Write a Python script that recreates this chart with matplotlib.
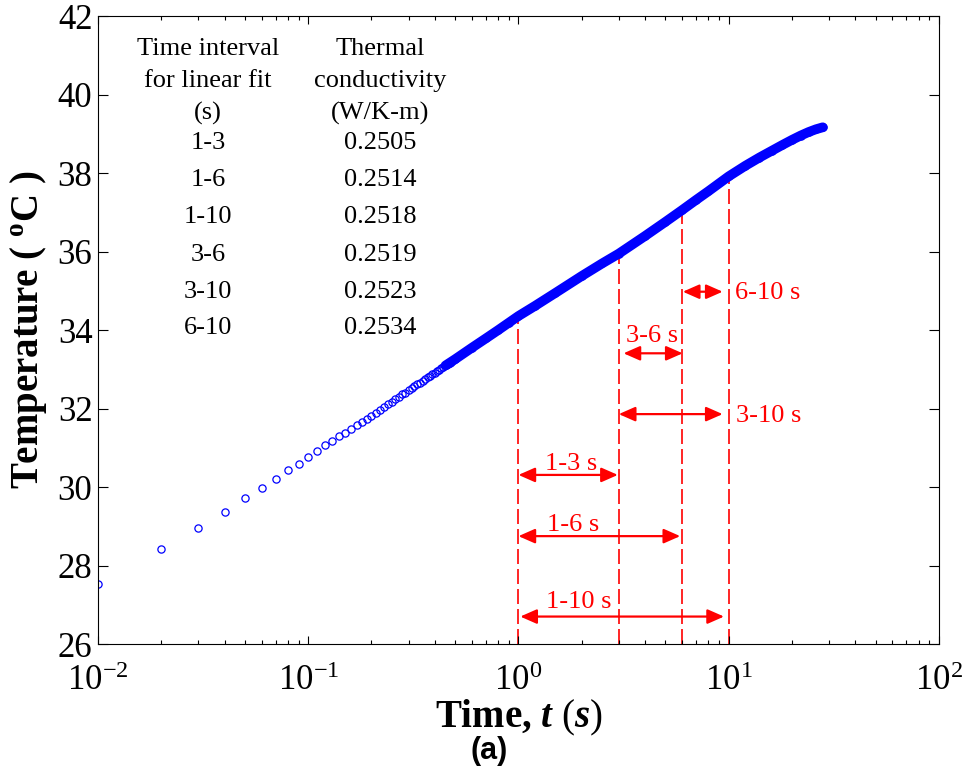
import matplotlib
matplotlib.use("Agg")
import matplotlib.pyplot as plt

plt.rcParams["font.family"] = "Liberation Serif"
plt.rcParams["mathtext.fontset"] = "custom"
plt.rcParams["mathtext.rm"] = "Liberation Serif"
plt.rcParams["mathtext.it"] = "Liberation Serif:italic:bold"
plt.rcParams["mathtext.bf"] = "Liberation Serif:bold"

# early samples (0.01 s steps)
t_early = [0.01, 0.02, 0.03, 0.04, 0.05, 0.06, 0.07, 0.08, 0.09, 0.10,
           0.11, 0.12, 0.13, 0.14, 0.15, 0.16, 0.17, 0.18, 0.19, 0.20,
           0.21, 0.22, 0.23, 0.24, 0.25, 0.26, 0.27, 0.28, 0.29, 0.30,
           0.31, 0.32, 0.33, 0.34, 0.35, 0.36, 0.37, 0.38, 0.39, 0.40,
           0.41, 0.42, 0.43, 0.44, 0.45, 0.46, 0.47, 0.48, 0.49, 0.50]
T_early = [27.54, 28.43, 28.96, 29.37, 29.72, 29.98, 30.21, 30.44, 30.60, 30.76,
           30.91, 31.06, 31.17, 31.29, 31.39, 31.49, 31.57, 31.65, 31.74, 31.81,
           31.90, 31.97, 32.04, 32.11, 32.17, 32.24, 32.30, 32.36, 32.41, 32.47,
           32.52, 32.57, 32.62, 32.66, 32.71, 32.75, 32.80, 32.84, 32.88, 32.92,
           32.96, 32.99, 33.03, 33.06, 33.10, 33.13, 33.17, 33.20, 33.23, 33.26]

# dense part (markers overlap into a solid band)
t_dense = [0.45, 0.5, 0.6, 0.7, 0.8, 0.9, 1.0, 1.2, 1.5, 2.0, 2.5, 3.0, 4.0, 5.0,
           6.0, 7.0, 8.0, 10.0, 12.0, 14.0, 16.0, 18.0, 20.0, 22.0, 24.0, 26.0, 28.0]
T_dense = [33.10, 33.26, 33.55, 33.79, 34.00, 34.19, 34.36, 34.62, 34.95, 35.38, 35.70, 35.95,
           36.40, 36.76, 37.06, 37.32, 37.54, 37.92, 38.19, 38.40, 38.57, 38.72,
           38.85, 38.96, 39.05, 39.12, 39.17]

# fit interval boundaries
fit_t = [1, 3, 6, 10]
fit_top = [34.33, 35.85, 37.06, 37.95]

# interval arrows
arr_label = ["1-3 s", "1-6 s", "1-10 s", "3-10 s", "3-6 s", "6-10 s"]
arr_start = [1.0, 1.0, 1.02, 3.0, 3.16, 6.05]
arr_end = [2.97, 5.88, 9.5, 9.36, 6.04, 9.36]
arr_y = [30.31, 28.75, 26.70, 31.86, 33.41, 34.98]
lab_x = [1.79, 1.82, 1.93, 10.8, 4.33, 10.7]
lab_y = [30.60, 29.03, 27.08, 31.82, 33.85, 34.95]
lab_ha = ["center", "center", "center", "left", "center", "left"]

# inset table
intervals = ["1-3", "1-6", "1-10", "3-6", "3-10", "6-10"]
conductivity = [0.2505, 0.2514, 0.2518, 0.2519, 0.2523, 0.2534]
head1 = ["Time interval", "for linear fit", "(s)"]
head2 = ["Thermal", "conductivity", "(W/K-m)"]

fig = plt.figure(figsize=(9.66, 7.75), dpi=100)
ax = fig.add_axes([0.1014, 0.169, 0.8706, 0.810])

for t, top in zip(fit_t, fit_top):
    ax.plot([t, t], [26, top], color="red", lw=1.2, dashes=(9, 3), zorder=1)

ax.plot(t_early, T_early, "o", ms=5.2, mfc="none", mec="blue", mew=0.9, zorder=2)
ax.plot(t_dense, T_dense, "o-", color="blue", lw=7, ms=5.2, mfc="none", mew=0.9,
        solid_capstyle="round", zorder=2)

for lab, a, b, y, lx, ly, ha in zip(arr_label, arr_start, arr_end, arr_y, lab_x, lab_y, lab_ha):
    ax.annotate("", xy=(b, y), xytext=(a, y),
                arrowprops=dict(arrowstyle="<|-|>,head_length=0.5,head_width=0.22",
                                color="red", lw=1.6, mutation_scale=20,
                                shrinkA=0, shrinkB=0), zorder=3)
    ax.text(lx, ly, lab, color="red", fontsize=19, ha=ha, va="center")

# table text
hy = [0.9475, 0.8965, 0.8455]
for y, a, b in zip(hy, head1, head2):
    ax.text(0.1308, y, a, transform=ax.transAxes, fontsize=19, ha="center", va="center")
    ax.text(0.3353, y, b, transform=ax.transAxes, fontsize=19, ha="center", va="center")
ry = [0.798, 0.739, 0.680, 0.619, 0.561, 0.503]
for y, a, b in zip(ry, intervals, conductivity):
    ax.text(0.1308, y, a, transform=ax.transAxes, fontsize=19, ha="center", va="center")
    ax.text(0.3353, y, f"{b:.4f}", transform=ax.transAxes, fontsize=19, ha="center", va="center")

ax.set_xscale("log")
ax.set_xlim(1e-2, 1e2)
ax.set_ylim(26, 42)
ax.set_yticks(range(26, 43, 2))

ax.tick_params(axis="both", which="both", direction="in", top=True, right=True,
               labelsize=25, width=0.8)
ax.tick_params(axis="x", which="major", length=6, pad=15)
ax.tick_params(axis="x", which="minor", length=3)
ax.tick_params(axis="y", which="major", length=7, pad=4)
for s in ax.spines.values():
    s.set_linewidth(0.8)

ax.set_xlabel(r"Time, $\mathit{t}$ $\mathit{(s)}$", fontsize=28, fontweight="bold")
ax.set_ylabel(r"Temperature ( $^{\mathbf{o}}$C )", fontsize=28, fontweight="bold")
ax.xaxis.set_label_coords(0.5, -0.085)
ax.yaxis.set_label_coords(-0.058, 0.5)

fig.text(0.506, 0.031, "(a)", family="Liberation Sans", fontweight="bold",
         fontsize=22, ha="center", va="center")

fig.savefig("out.png", dpi=100, facecolor="white")
